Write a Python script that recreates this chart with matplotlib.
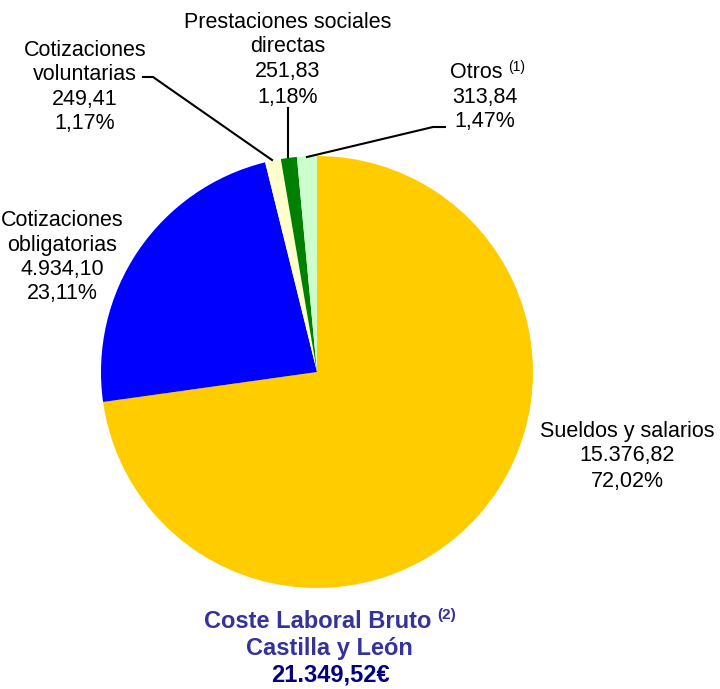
import matplotlib
matplotlib.use("Agg")
import matplotlib.pyplot as plt

categories = ["Sueldos y salarios", "Cotizaciones\nobligatorias", "Cotizaciones\nvoluntarias",
              "Prestaciones sociales\ndirectas", "Otros"]
values = [15376.82, 4934.10, 249.41, 251.83, 313.84]
value_labels = ["15.376,82", "4.934,10", "249,41", "251,83", "313,84"]
pct_labels = ["72,02%", "23,11%", "1,17%", "1,18%", "1,47%"]
colors = ["#FFCC00", "#0000FF", "#FFFFCC", "#008000", "#CCFFCC"]
total_label = "21.349,52€"

plt.rcParams['font.family'] = ['Liberation Sans', 'DejaVu Sans']

W, H = 720, 689
fig = plt.figure(figsize=(W / 100, H / 100), dpi=100)
ax = fig.add_axes([0, 0, 1, 1])

cx, cy, r = 317, H - 372, 216
ax.pie(values, colors=colors, startangle=90, counterclock=False,
       center=(cx, cy), radius=r, frame=True,
       wedgeprops=dict(linewidth=0))
ax.set_xlim(0, W)
ax.set_ylim(0, H)
ax.axis('off')

fs = 15.5

def label(x, ys, idx, first_x=None):
    lines = categories[idx].split("\n") + [value_labels[idx], pct_labels[idx]]
    for i, (s, y) in enumerate(zip(lines, ys)):
        xx = first_x if (i == 0 and first_x is not None) else x
        ax.text(xx, H - y, s, ha='center', va='center', fontsize=fs, color='black')

label(627, [432, 456, 481], 0)
label(62, [220, 245, 270, 294], 1)
label(85, [50, 74, 99, 123], 2)
label(288, [22, 47, 72, 97], 3)
label(485, [72, 97, 122], 4, first_x=476)
ax.text(508, H - 67, "(1)", ha='left', va='center', fontsize=10)

# leader lines
lk = dict(color='black', lw=1.5)
ax.plot([143, 153, 272], [H - 77, H - 77, H - 160], **lk)
ax.plot([288, 288], [H - 108, H - 157], **lk)
ax.plot([445, 433, 307], [H - 127, H - 127, H - 157], **lk)

# title
tcol = "#333399"
tfs = 17
ax.text(318, H - 622, "Coste Laboral Bruto", ha='center', va='center', fontsize=tfs,
        fontweight='bold', color=tcol)
ax.text(437, H - 615, "(2)", ha='left', va='center', fontsize=11, fontweight='bold', color=tcol)
ax.text(329, H - 648, "Castilla y León", ha='center', va='center', fontsize=tfs,
        fontweight='bold', color=tcol)
ax.text(330, H - 675, total_label, ha='center', va='center', fontsize=tfs,
        fontweight='bold', color="#000080")

fig.savefig("out.png", dpi=100)
